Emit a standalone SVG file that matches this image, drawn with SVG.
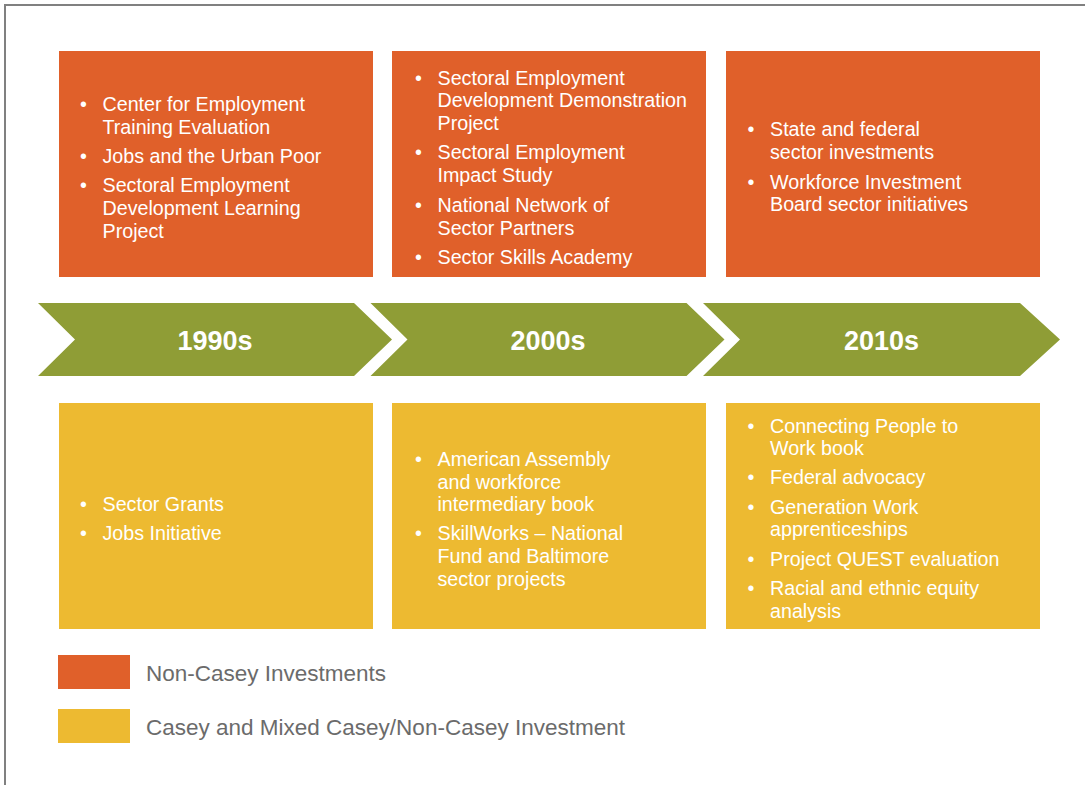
<svg xmlns="http://www.w3.org/2000/svg" width="1085" height="785" viewBox="0 0 1085 785">
  <style>
    .orange { fill: #E0602A; }
    .yellow { fill: #EDBA31; }
    .green { fill: #8F9D36; }
    .item { font-family: "Liberation Sans", Arial, sans-serif; font-size: 19.7px; fill: #FFFFFF; }
    .bullet { font-family: "Liberation Sans", Arial, sans-serif; font-size: 19.7px; fill: #FFFFFF; text-anchor: middle; }
    .era { font-family: "Liberation Sans", Arial, sans-serif; font-size: 27px; font-weight: bold; fill: #FFFFFF; text-anchor: middle; }
    .legend { font-family: "Liberation Sans", Arial, sans-serif; font-size: 22.5px; fill: #6B6B6B; }
  </style>
  <defs>
    <!-- one chevron segment of the timeline band -->
    <path id="chevron" d="M0,0 H316 L354,36.5 L316,73 H0 L37,36.5 Z"/>
  </defs>

  <rect x="0" y="0" width="1085" height="785" fill="#FFFFFF"/>
  <!-- page frame: left and top edges -->
  <path d="M5,785 V5 H1085" fill="none" stroke="#808080" stroke-width="2"/>

  <!-- timeline band -->
  <g id="era-1990s">
    <use href="#chevron" class="green" x="38" y="303"/>
    <text class="era" x="215" y="350">1990s</text>
  </g>
  <g id="era-2000s">
    <use href="#chevron" class="green" x="370.5" y="303"/>
    <text class="era" x="548" y="350">2000s</text>
  </g>
  <g id="era-2010s">
    <!-- last segment runs a little further to the right -->
    <path class="green" d="M703,303 H1020 L1060,339.5 L1020,376 H703 L740,339.5 Z"/>
    <text class="era" x="881.5" y="350">2010s</text>
  </g>

  <!-- Non-Casey investments (top row) -->
  <g id="noncasey-1990s">
    <rect class="orange" x="59" y="51" width="314" height="226"/>
    <text class="bullet" x="83.5" y="110.5">•</text>
    <text class="item" x="102.5" y="110.5">Center for Employment</text>
    <text class="item" x="102.5" y="133.5">Training Evaluation</text>
    <text class="bullet" x="83.5" y="162.5">•</text>
    <text class="item" x="102.5" y="162.5">Jobs and the Urban Poor</text>
    <text class="bullet" x="83.5" y="192">•</text>
    <text class="item" x="102.5" y="192">Sectoral Employment</text>
    <text class="item" x="102.5" y="215">Development Learning</text>
    <text class="item" x="102.5" y="238">Project</text>
  </g>
  <g id="noncasey-2000s">
    <rect class="orange" x="392" y="51" width="314" height="226"/>
    <text class="bullet" x="418.5" y="84.5">•</text>
    <text class="item" x="437.5" y="84.5">Sectoral Employment</text>
    <text class="item" x="437.5" y="107">Development Demonstration</text>
    <text class="item" x="437.5" y="129.5">Project</text>
    <text class="bullet" x="418.5" y="159">•</text>
    <text class="item" x="437.5" y="159">Sectoral Employment</text>
    <text class="item" x="437.5" y="181.5">Impact Study</text>
    <text class="bullet" x="418.5" y="211.5">•</text>
    <text class="item" x="437.5" y="211.5">National Network of</text>
    <text class="item" x="437.5" y="234.5">Sector Partners</text>
    <text class="bullet" x="418.5" y="264">•</text>
    <text class="item" x="437.5" y="264">Sector Skills Academy</text>
  </g>
  <g id="noncasey-2010s">
    <rect class="orange" x="726" y="51" width="314" height="226"/>
    <text class="bullet" x="751" y="136">•</text>
    <text class="item" x="770" y="136">State and federal</text>
    <text class="item" x="770" y="158.5">sector investments</text>
    <text class="bullet" x="751" y="188.5">•</text>
    <text class="item" x="770" y="188.5">Workforce Investment</text>
    <text class="item" x="770" y="211">Board sector initiatives</text>
  </g>

  <!-- Casey and mixed investments (bottom row) -->
  <g id="casey-1990s">
    <rect class="yellow" x="59" y="403" width="314" height="226"/>
    <text class="bullet" x="83.5" y="511">•</text>
    <text class="item" x="102.5" y="511">Sector Grants</text>
    <text class="bullet" x="83.5" y="540">•</text>
    <text class="item" x="102.5" y="540">Jobs Initiative</text>
  </g>
  <g id="casey-2000s">
    <rect class="yellow" x="392" y="403" width="314" height="226"/>
    <text class="bullet" x="418.5" y="466">•</text>
    <text class="item" x="437.5" y="466">American Assembly</text>
    <text class="item" x="437.5" y="488.5">and workforce</text>
    <text class="item" x="437.5" y="511">intermediary book</text>
    <text class="bullet" x="418.5" y="540">•</text>
    <text class="item" x="437.5" y="540">SkillWorks – National</text>
    <text class="item" x="437.5" y="562.5">Fund and Baltimore</text>
    <text class="item" x="437.5" y="585.5">sector projects</text>
  </g>
  <g id="casey-2010s">
    <rect class="yellow" x="726" y="403" width="314" height="226"/>
    <text class="bullet" x="751" y="432.5">•</text>
    <text class="item" x="770" y="432.5">Connecting People to</text>
    <text class="item" x="770" y="454.5">Work book</text>
    <text class="bullet" x="751" y="484">•</text>
    <text class="item" x="770" y="484">Federal advocacy</text>
    <text class="bullet" x="751" y="514">•</text>
    <text class="item" x="770" y="514">Generation Work</text>
    <text class="item" x="770" y="536">apprenticeships</text>
    <text class="bullet" x="751" y="566">•</text>
    <text class="item" x="770" y="566">Project QUEST evaluation</text>
    <text class="bullet" x="751" y="595">•</text>
    <text class="item" x="770" y="595">Racial and ethnic equity</text>
    <text class="item" x="770" y="617.5">analysis</text>
  </g>

  <!-- legend -->
  <g id="legend-noncasey">
    <rect class="orange" x="58" y="655" width="72" height="34"/>
    <text class="legend" x="146" y="680.5">Non-Casey Investments</text>
  </g>
  <g id="legend-casey">
    <rect class="yellow" x="58" y="709" width="72" height="34"/>
    <text class="legend" x="146" y="734.5">Casey and Mixed Casey/Non-Casey Investment</text>
  </g>
</svg>
